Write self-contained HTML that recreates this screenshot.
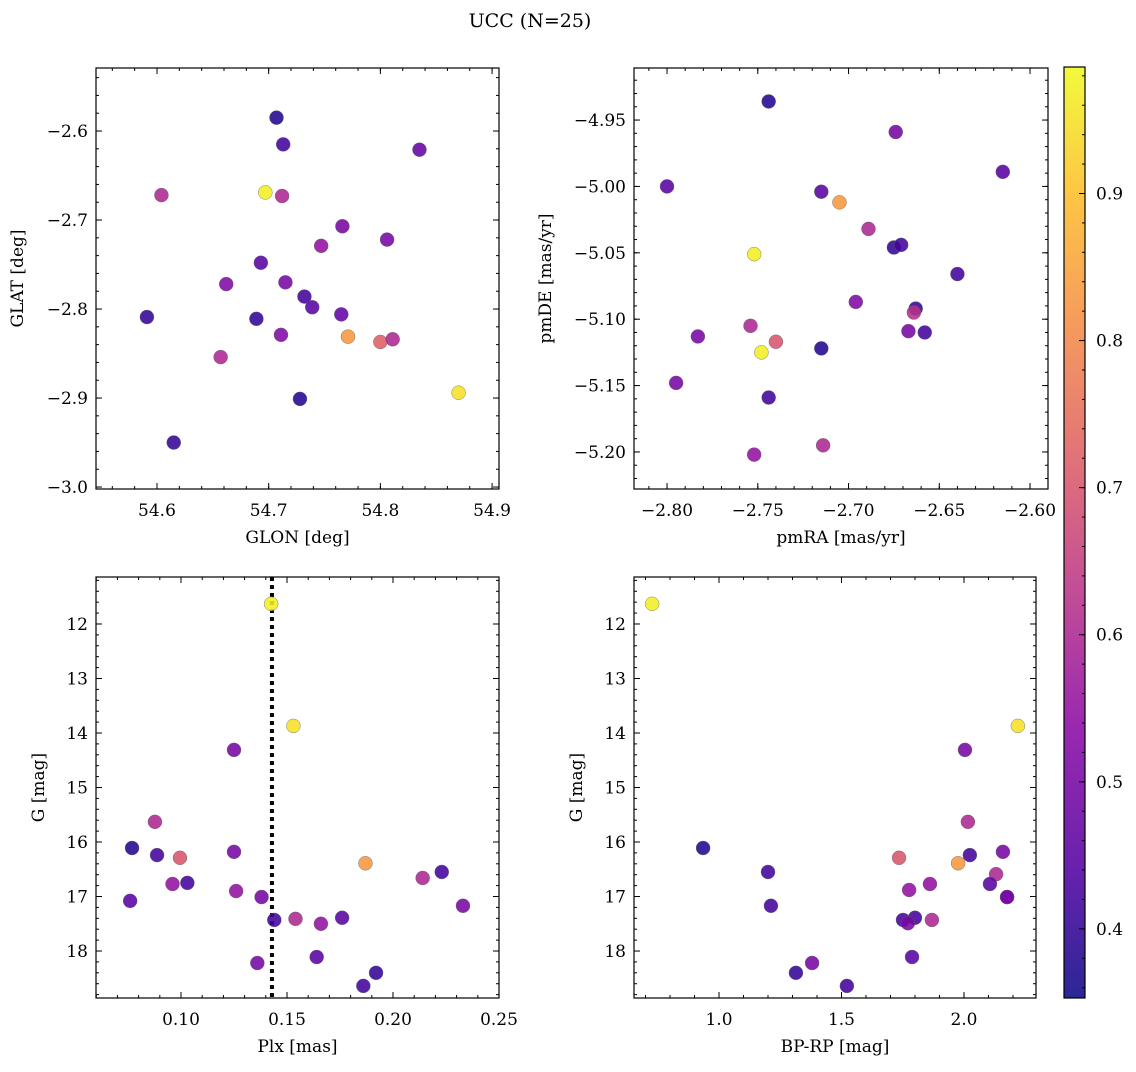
<!DOCTYPE html>
<html><head><meta charset="utf-8"><style>
body{margin:0;background:#fff;}
svg text{font-family:"DejaVu Serif","Liberation Serif",serif;fill:#000;}
</style></head><body>
<svg id="fig" width="1136" height="1067" viewBox="0 0 1136 1067" xmlns="http://www.w3.org/2000/svg">
<text x="530" y="27" font-size="19" text-anchor="middle">UCC (N=25)</text>
</svg>
<script>
// Panel 1: GLON vs GLAT
const glon=[54.707,54.713,54.835,54.604,54.697,54.712,54.766,54.806,54.747,54.693,54.662,54.715,54.591,54.689,54.732,54.739,54.765,54.711,54.771,54.800,54.811,54.657,54.728,54.870,54.615];
const glat=[-2.585,-2.615,-2.621,-2.672,-2.669,-2.673,-2.707,-2.722,-2.729,-2.748,-2.772,-2.770,-2.809,-2.811,-2.786,-2.798,-2.806,-2.829,-2.831,-2.837,-2.834,-2.854,-2.901,-2.894,-2.950];
const prob1=[0.38,0.42,0.47,0.6,0.97,0.6,0.5,0.5,0.55,0.45,0.52,0.5,0.4,0.4,0.42,0.45,0.47,0.52,0.83,0.72,0.6,0.6,0.38,0.95,0.4];
// Panel 2: pmRA vs pmDE
const pmra=[-2.744,-2.674,-2.800,-2.615,-2.715,-2.705,-2.689,-2.752,-2.675,-2.671,-2.640,-2.696,-2.663,-2.664,-2.667,-2.658,-2.754,-2.740,-2.783,-2.715,-2.748,-2.795,-2.744,-2.714,-2.752];
const pmde=[-4.936,-4.959,-5.000,-4.989,-5.004,-5.012,-5.032,-5.051,-5.046,-5.044,-5.066,-5.087,-5.092,-5.095,-5.109,-5.110,-5.105,-5.117,-5.113,-5.122,-5.125,-5.148,-5.159,-5.195,-5.202];
const prob2=[0.38,0.5,0.45,0.45,0.45,0.83,0.6,0.97,0.4,0.42,0.42,0.52,0.4,0.62,0.5,0.42,0.6,0.7,0.5,0.38,0.97,0.5,0.42,0.6,0.55];
// Panel 3: Plx vs G
const plx=[0.1425,0.153,0.125,0.0877,0.0769,0.0887,0.0995,0.125,0.096,0.103,0.126,0.138,0.076,0.187,0.214,0.223,0.233,0.144,0.154,0.166,0.176,0.136,0.164,0.192,0.186];
const gmag3=[11.63,13.87,14.31,15.63,16.11,16.24,16.29,16.18,16.77,16.75,16.90,17.01,17.08,16.39,16.66,16.55,17.17,17.43,17.41,17.50,17.39,18.22,18.11,18.40,18.64];
const prob3=[0.97,0.95,0.5,0.6,0.38,0.42,0.7,0.5,0.55,0.42,0.55,0.5,0.45,0.83,0.6,0.42,0.5,0.42,0.6,0.55,0.45,0.5,0.45,0.4,0.42];
const plxLine=0.1429;
// Panel 4: BP-RP vs G
const bprp=[0.727,2.22,2.004,2.016,0.935,2.024,1.735,2.159,1.976,1.2,1.861,2.131,2.106,1.776,2.176,1.212,1.751,1.800,1.771,1.869,1.788,1.380,1.314,1.522,2.176];
const gmag4=[11.63,13.87,14.31,15.63,16.11,16.24,16.29,16.18,16.39,16.55,16.77,16.59,16.77,16.88,17.01,17.17,17.43,17.39,17.49,17.43,18.11,18.22,18.40,18.64,17.01];
const prob4=[0.97,0.95,0.5,0.6,0.38,0.42,0.7,0.5,0.83,0.42,0.55,0.6,0.45,0.55,0.5,0.42,0.42,0.42,0.5,0.6,0.45,0.5,0.4,0.42,0.5];
// colorbar
const cbTicks=[0.4,0.5,0.6,0.7,0.8,0.9];
const cbMin=0.353, cbMax=0.986;

const NS="http://www.w3.org/2000/svg";
const svg=document.getElementById('fig');
function mk(tag,attrs,parent){const e=document.createElementNS(NS,tag);for(const k in attrs)e.setAttribute(k,attrs[k]);(parent||svg).appendChild(e);return e;}
const stops=[[0,13,8,135],[0.14,84,2,163],[0.29,139,10,165],[0.43,185,50,137],[0.57,219,92,104],[0.71,244,136,73],[0.86,254,188,43],[1,240,249,33]];
function plasma(t){t=Math.max(0,Math.min(1,t));for(let i=1;i<stops.length;i++){if(t<=stops[i][0]){const a=stops[i-1],b=stops[i];const f=(t-a[0])/(b[0]-a[0]);return `rgb(${[1,2,3].map(j=>Math.round(a[j]+f*(b[j]-a[j]))).join(',')})`;}}return 'rgb(240,249,33)';}
function cmap(v){return plasma((v-cbMin)/(cbMax-cbMin));}

function fmt(v,d){let s=v.toFixed(d);return s.replace('-','\u2212');}
function panel(o){
  const g=mk('g',{});
  
  
  const sx=v=>o.x0+(v-o.xr[0])/(o.xr[1]-o.xr[0])*(o.x1-o.x0);
  const sy=v=>o.y0+(o.yr[0]-v)/(o.yr[0]-o.yr[1])*(o.y1-o.y0);
  const tg=mk('g',{stroke:'#000','stroke-width':1},g);
  function ticks(min,max,step,len,isX,label,dec){
    const s=Math.ceil(min/step-1e-6);
    for(let k=s;k*step<=max+1e-9;k++){const v=k*step;
      if(isX){const p=sx(v);mk('line',{x1:p,x2:p,y1:o.y1,y2:o.y1-len},tg);mk('line',{x1:p,x2:p,y1:o.y0,y2:o.y0+len},tg);
        if(label){const t=mk('text',{x:p,y:o.y1+27,'font-size':17,'text-anchor':'middle',stroke:'none'},g);t.textContent=fmt(v,dec);}}
      else{const p=sy(v);mk('line',{x1:o.x0,x2:o.x0+len,y1:p,y2:p},tg);mk('line',{x1:o.x1,x2:o.x1-len,y1:p,y2:p},tg);
        if(label){const t=mk('text',{x:o.x0-8,y:p+6,'font-size':17,'text-anchor':'end',stroke:'none'},g);t.textContent=fmt(v,dec);}}
    }
  }
  ticks(o.xr[0],o.xr[1],o.xminor,3,true,false);
  ticks(o.xr[0],o.xr[1],o.xmajor,6,true,true,o.xdec);
  const ylo=Math.min(o.yr[0],o.yr[1]),yhi=Math.max(o.yr[0],o.yr[1]);
  ticks(ylo,yhi,o.yminor,3,false,false);
  ticks(ylo,yhi,o.ymajor,6,false,true,o.ydec);
  if(o.vline!==undefined){const p=sx(o.vline);const l=mk('line',{x1:p,x2:p,y1:o.y0,y2:o.y1,stroke:'#000','stroke-width':4,'stroke-dasharray':'4,4'},g);}
  o.xs.forEach((v,i)=>{const c=mk('circle',{cx:sx(v),cy:sy(o.ys[i]),r:7,fill:cmap(o.cs[i]),'fill-opacity':0.88,stroke:'#666','stroke-width':0.4},g);
    
    });
  mk('rect',{x:o.x0,y:o.y0,width:o.x1-o.x0,height:o.y1-o.y0,fill:'none',stroke:'#000','stroke-width':1.2},g);
  const xl=mk('text',{x:(o.x0+o.x1)/2,y:o.y1+54,'font-size':17,'text-anchor':'middle'},g);xl.textContent=o.xlabel;
  
  const yx=o.x0-o.ylabOff, yy=(o.y0+o.y1)/2;
  const yl=mk('text',{x:yx,y:yy,'font-size':17,'text-anchor':'middle',transform:`rotate(-90 ${yx} ${yy})`},g);yl.textContent=o.ylabel;
  
}
panel({name:'glon-glat-panel',x0:96,x1:499,y0:68,y1:489,xr:[54.5454,54.9062],yr:[-2.5292,-3.0022],xmajor:0.1,xminor:0.02,ymajor:0.1,yminor:0.02,xdec:1,ydec:1,xs:glon,ys:glat,cs:prob1,xlabel:'GLON [deg]',ylabel:'GLAT [deg]',ylabOff:73});
panel({name:'pm-panel',x0:634,x1:1048,y0:68,y1:489,xr:[-2.8182,-2.5901],yr:[-4.9108,-5.2279],xmajor:0.05,xminor:0.01,ymajor:0.05,yminor:0.01,xdec:2,ydec:2,xs:pmra,ys:pmde,cs:prob2,xlabel:'pmRA [mas/yr]',ylabel:'pmDE [mas/yr]',ylabOff:83});
panel({name:'plx-g-panel',x0:96,x1:499,y0:577,y1:998,xr:[0.0599,0.25],yr:[11.138,18.862],xmajor:0.05,xminor:0.01,ymajor:1,yminor:0.2,xdec:2,ydec:0,xs:plx,ys:gmag3,cs:prob3,xlabel:'Plx [mas]',ylabel:'G [mag]',ylabOff:52,vline:plxLine});
panel({name:'cmd-panel',x0:634,x1:1036,y0:577,y1:998,xr:[0.653,2.294],yr:[11.138,18.862],xmajor:0.5,xminor:0.1,ymajor:1,yminor:0.2,xdec:1,ydec:0,xs:bprp,ys:gmag4,cs:prob4,xlabel:'BP-RP [mag]',ylabel:'G [mag]',ylabOff:52});
// colorbar
const cb=mk('g',{});


const defs=mk('defs',{},cb);const lg=mk('linearGradient',{id:'cbg',x1:0,y1:1,x2:0,y2:0},defs);
stops.forEach(s=>mk('stop',{offset:s[0],'stop-color':`rgb(${s[1]},${s[2]},${s[3]})`},lg));
const cx0=1064,cx1=1085,cy0=67,cy1=998;
mk('rect',{x:cx0,y:cy0,width:cx1-cx0,height:cy1-cy0,fill:'url(#cbg)','fill-opacity':0.88},cb);
const cby=v=>cy1-(v-cbMin)/(cbMax-cbMin)*(cy1-cy0);
for(let k=Math.ceil(cbMin/0.02);k*0.02<=cbMax;k++){const p=cby(k*0.02);mk('line',{x1:cx1,x2:cx1-3,y1:p,y2:p,stroke:'#000'},cb);}
cbTicks.forEach(v=>{const p=cby(v);mk('line',{x1:cx1,x2:cx1-6,y1:p,y2:p,stroke:'#000'},cb);
  const t=mk('text',{x:cx1+11,y:p+6,'font-size':17},cb);t.textContent=v.toFixed(1);
  });
mk('rect',{x:cx0,y:cy0,width:cx1-cx0,height:cy1-cy0,fill:'none',stroke:'#000','stroke-width':1.2},cb);
</script>
</body></html>
